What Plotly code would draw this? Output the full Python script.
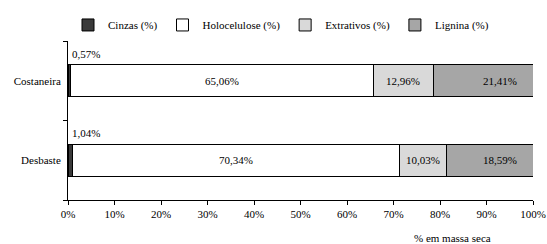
import plotly.graph_objects as go

categories = ["Costaneira", "Desbaste"]
cinzas = [0.57, 1.04]
holocelulose = [65.06, 70.34]
extrativos = [12.96, 10.03]
lignina = [21.41, 18.59]
series_names = ["Cinzas (%)", "Holocelulose (%)", "Extrativos (%)", "Lignina (%)"]
colors = ["#3a3a3a", "#ffffff", "#d9d9d9", "#a6a6a6"]
x_ticks = list(range(0, 101, 10))
x_ticktext = [f"{v}%" for v in x_ticks]

def fmt(v):
    return f"{v:.2f}".replace(".", ",") + "%"

font = dict(family="Liberation Serif", size=11, color="#000")

fig = go.Figure()
for name, vals, col in zip(series_names, [cinzas, holocelulose, extrativos, lignina], colors):
    fig.add_trace(go.Bar(
        y=categories, x=vals, name=name, orientation="h",
        marker=dict(color=col, line=dict(color="#000", width=1)),
        width=0.4, hoverinfo="skip",
    ))

ann = []
for i, cat in enumerate(categories):
    c, h, e, l = cinzas[i], holocelulose[i], extrativos[i], lignina[i]
    ann.append(dict(x=0, y=cat, text=fmt(c), showarrow=False, xanchor="left",
                    xshift=2, yshift=27, font=font))
    ann.append(dict(x=c + h / 2, y=cat, text=fmt(h), showarrow=False, font=font))
    ann.append(dict(x=c + h + e / 2, y=cat, text=fmt(e), showarrow=False, font=font))
    ann.append(dict(x=100, y=cat, text=fmt(l), showarrow=False, xanchor="right",
                    xshift=-14, font=font))
ann.append(dict(x=1, xref="paper", y=-0.2375, yref="paper", text="% em massa seca",
                showarrow=False, xanchor="right", yanchor="middle", xshift=-40, font=font))

fig.update_layout(
    barmode="stack",
    width=547, height=244,
    margin=dict(l=68, r=14, t=40, b=44),
    paper_bgcolor="#fff", plot_bgcolor="#fff",
    font=font,
    showlegend=True,
    legend=dict(orientation="h", x=0.0, y=1.094, xanchor="left", yanchor="middle",
                font=font, itemwidth=30, traceorder="normal", itemclick=False,
                bgcolor="rgba(0,0,0,0)"),
    annotations=ann,
    xaxis=dict(range=[0, 100], tickvals=x_ticks, ticktext=x_ticktext, showgrid=False,
               showline=True, linecolor="#000", linewidth=1, ticks="outside",
               ticklen=4, tickcolor="#000", zeroline=False, fixedrange=True,
               automargin=False),
    yaxis=dict(categoryorder="array", categoryarray=categories[::-1], showgrid=False,
               showline=True, linecolor="#000", linewidth=1, ticks="outside",
               ticklen=4, tickcolor="#000", tickson="boundaries", ticklabelstandoff=4,
               fixedrange=True, automargin=False),
)
fig.write_html("out.html", config={"displayModeBar": False},
               post_script="document.body.style.margin='0px';document.body.style.overflow='hidden';")
